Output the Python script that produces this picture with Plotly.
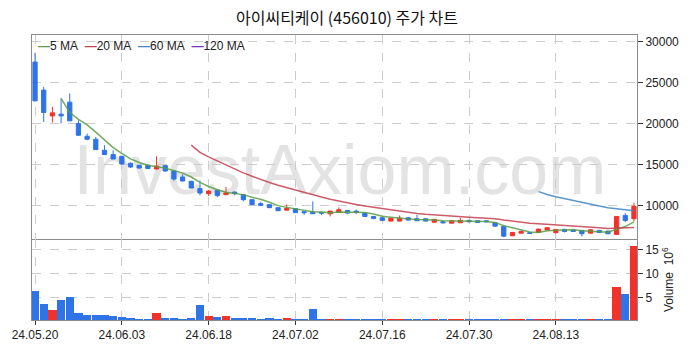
import plotly.graph_objects as go
from plotly.subplots import make_subplots
import pandas as pd

title_text = "아이씨티케이 (456010) 주가 차트"

# close of the trading day before the visible window (used only for moving averages)
prior_close = 29000

opens = [27520, 24090, 20940, 21150, 22620, 20010, 18450, 18085, 16740, 16210,
         16000, 15145, 14900, 14900, 14450, 14860, 14200, 13470, 12940, 12050,
         11430, 11840, 11310, 11630, 11310, 10700, 10210, 10090, 9720, 9420,
         9600, 9230, 9180, 9140, 8980, 9140, 9390, 9300, 9060, 8650,
         8490, 8080, 8080, 8490, 8370, 8370, 7950, 8000, 7830, 7880,
         8160, 8120, 8120, 7880, 7460, 6290, 6610, 6650, 6690, 7000,
         6660, 7060, 7020, 6940, 6610, 6940, 6860, 6450, 8775, 8370]
highs = [28650, 24490, 22040, 23070, 23680, 20410, 18780, 18370, 17350, 16740,
         16050, 15250, 14950, 14950, 16000, 14900, 14250, 13800, 13000, 13060,
         11900, 11900, 12240, 11700, 11350, 10750, 10450, 10100, 9750, 10120,
         9650, 9300, 10490, 9200, 9350, 9755, 9450, 9480, 9100, 8700,
         8520, 8500, 8775, 8600, 8860, 8400, 8300, 8100, 8150, 8490,
         8250, 8150, 8150, 7900, 7480, 6750, 6900, 6800, 7150, 7350,
         7100, 7150, 7050, 7000, 7050, 7000, 6900, 8700, 9060, 10330]
lows = [22700, 20200, 20130, 20010, 20300, 18490, 17960, 16800, 16200, 15650,
        15000, 14600, 14500, 14450, 14400, 14150, 13000, 12950, 12100, 11225,
        11150, 11000, 11250, 11250, 10500, 10050, 9950, 9700, 9330, 9400,
        9100, 8850, 8950, 8850, 8650, 9100, 9000, 8950, 8600, 8300,
        8150, 8050, 8050, 8150, 8100, 8050, 7900, 7800, 7800, 7850,
        7900, 7850, 7950, 7400, 6120, 6250, 6580, 6500, 6650, 6950,
        6600, 6700, 6750, 6200, 6580, 6650, 6480, 6400, 7950, 8040]
closes = [22780, 21360, 21310, 20940, 20330, 18575, 18085, 16820, 16210, 15670,
          15060, 14690, 14570, 14500, 14810, 14200, 13220, 12980, 12120, 11510,
          11750, 11190, 11510, 11430, 10700, 10090, 10000, 9720, 9350, 9630,
          9110, 9110, 8980, 9060, 9300, 9470, 9060, 9140, 8650, 8410,
          8160, 8440, 8440, 8200, 8120, 8080, 8285, 7880, 8120, 8160,
          8000, 7920, 8000, 7460, 6240, 6690, 6815, 6570, 7100, 7270,
          7060, 6815, 6815, 6530, 7020, 6690, 6530, 8650, 8160, 9880]
volumes_m = [6.3, 3.6, 2.35, 4.4, 5.07, 1.73, 1.31, 1.31, 1.31, 1.1,
             0.83, 0.62, 0.4, 0.4, 1.73, 0.69, 0.69, 0.4, 0.69, 3.33,
             1.1, 0.83, 1.1, 0.69, 0.69, 0.69, 0.48, 0.69, 0.48, 0.69,
             0.48, 0.48, 2.56, 0.48, 0.45, 0.45, 0.4, 0.4, 0.35, 0.4,
             0.45, 0.45, 0.4, 0.35, 0.45, 0.35, 0.4, 0.35, 0.35, 0.4,
             0.35, 0.35, 0.35, 0.4, 0.5, 0.45, 0.4, 0.35, 0.4, 0.35,
             0.45, 0.35, 0.35, 0.35, 0.4, 0.35, 0.4, 7.15, 5.7, 15.7]
tick_pos = [0, 10, 20, 30, 40, 50, 60]
tick_labels = ["24.05.20", "24.06.03", "24.06.18", "24.07.02",
               "24.07.16", "24.07.30", "24.08.13"]
price_ticks = [10000, 15000, 20000, 25000, 30000]
volume_ticks = [5, 10, 15]

UP = "#f2322a"
DOWN = "#2f74e6"

x = list(range(len(closes)))
s = pd.Series([prior_close] + closes, dtype=float)
ma = {n: s.rolling(n).mean().iloc[1:].tolist() for n in (5, 20, 60, 120)}
vol_colors = [UP if c >= o else DOWN for o, c in zip(opens, closes)]

fig = make_subplots(rows=2, cols=1, shared_xaxes=True, vertical_spacing=0,
                    row_heights=[0.717, 0.283])

fig.add_trace(go.Candlestick(
    x=x, open=opens, high=highs, low=lows, close=closes,
    increasing=dict(line=dict(color=UP, width=1), fillcolor=UP),
    decreasing=dict(line=dict(color=DOWN, width=1), fillcolor=DOWN),
    whiskerwidth=0, showlegend=False, name="price"), row=1, col=1)

ma_styles = [(5, "5 MA", "#5a9e46"), (20, "20 MA", "#c4404f"),
             (60, "60 MA", "#3d85c6"), (120, "120 MA", "#7a30c4")]
for n, name, col in ma_styles:
    fig.add_trace(go.Scatter(x=x, y=ma[n], mode="lines", name=name,
                             line=dict(color=col, width=1.5), opacity=0.85,
                             showlegend=False),
                  row=1, col=1)

fig.add_trace(go.Bar(x=x, y=volumes_m, marker=dict(color=vol_colors, line=dict(width=0)),
                     width=0.95, showlegend=False, name="Volume"), row=2, col=1)

# compact legend (short line samples) built from the MA styles
legend_html = "&nbsp;&nbsp;".join(
    f"<span style='color:{col}'><b>—</b></span>{name}" for _, name, col in ma_styles)

grid = dict(showgrid=True, gridcolor="#cccccc", griddash="dash", gridwidth=1)
axline = dict(showline=True, linecolor="#8c8c8c", linewidth=1)

fig.update_xaxes(range=[-0.35, 69.35], tickvals=tick_pos, ticktext=tick_labels,
                 zeroline=False, automargin=False, rangeslider=dict(visible=False),
                 **grid, **axline)
fig.update_xaxes(ticks="outside", ticklen=4, tickcolor="#333", mirror=False, row=2, col=1)
fig.update_xaxes(showticklabels=False, mirror=True, row=1, col=1)

fig.update_yaxes(side="right", ticks="outside", ticklen=5, tickcolor="#333", mirror=True,
                 zeroline=False, automargin=False, tickformat="d", **grid, **axline)
fig.update_yaxes(range=[5850, 30825], tickvals=price_ticks, row=1, col=1)
fig.update_yaxes(range=[0.27, 17.1], tickvals=volume_ticks,
                 title=dict(text="Volume  10<sup>6</sup>", standoff=6, font=dict(size=12)),
                 row=2, col=1)

fig.update_layout(
    width=694, height=352,
    margin=dict(l=32, r=57, t=35, b=32),
    paper_bgcolor="white", plot_bgcolor="rgba(0,0,0,0)",
    font=dict(family="Liberation Sans, Arial, sans-serif", size=12, color="#222"),
    title=dict(text=title_text, x=0.5, xref="container", xanchor="center",
               y=0.949, yanchor="middle",
               font=dict(family="Noto Sans CJK KR", size=16, color="#111")),
    showlegend=False,
    bargap=0,
    annotations=[dict(text=legend_html, xref="paper", yref="paper", x=0.006, y=0.993,
                      xanchor="left", yanchor="top", showarrow=False,
                      font=dict(family="Liberation Sans", size=12, color="#222"))],
    shapes=[dict(type="rect", xref="paper", yref="paper", x0=0.1, x1=0.918,
                 y0=0.45, y1=0.65, layer="below", line=dict(width=0),
                 fillcolor="rgba(0,0,0,0)",
                 label=dict(text="InvestAxiom.com", textposition="middle center",
                            font=dict(family="Liberation Sans", size=70, color="#e3e3e3")))],
)

fig.write_html("out.html", config={"displayModeBar": False},
               post_script="document.body.style.margin='0';")
